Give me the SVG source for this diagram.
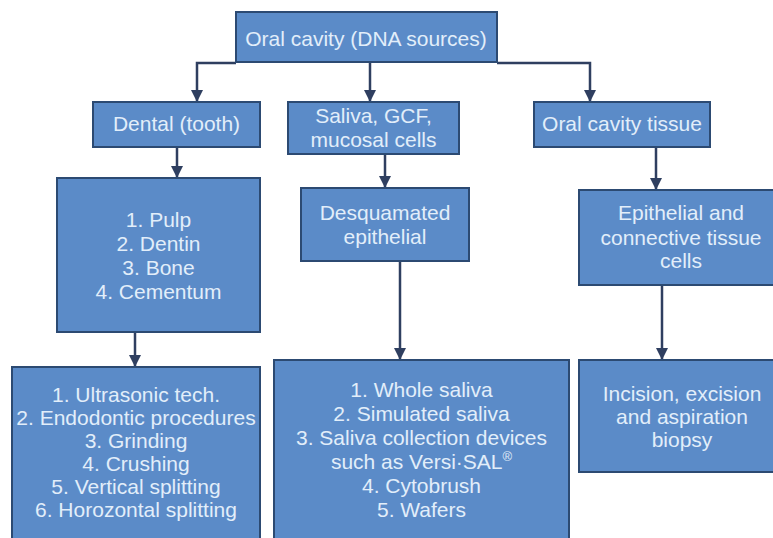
<svg xmlns="http://www.w3.org/2000/svg" width="773" height="538" viewBox="0 0 773 538">
<defs>
<style>
.box{fill:#5b8bc8;stroke:#2c4a72;stroke-width:2}
.t{font-family:"Liberation Sans",Arial,sans-serif;font-size:21px;fill:#e2eefa;text-anchor:middle}
.c{fill:none;stroke:#2f3f60;stroke-width:2.5}
</style>
<marker id="ah" markerUnits="userSpaceOnUse" markerWidth="12" markerHeight="12" viewBox="0 0 12 12" refX="11" refY="6" orient="auto">
<path d="M0,0 L12,6 L0,12 z" fill="#2f3f60"/>
</marker>
</defs>
<rect width="773" height="538" fill="#ffffff"/>
<g id="connectors">
<path class="c" d="M236 63 H197 V101" marker-end="url(#ah)"/>
<path class="c" d="M370 62 V101" marker-end="url(#ah)"/>
<path class="c" d="M497 63 H590 V101" marker-end="url(#ah)"/>
<path class="c" d="M177 147 V177" marker-end="url(#ah)"/>
<path class="c" d="M135 332 V366" marker-end="url(#ah)"/>
<path class="c" d="M385 154 V187" marker-end="url(#ah)"/>
<path class="c" d="M400 261 V359" marker-end="url(#ah)"/>
<path class="c" d="M656 147 V189" marker-end="url(#ah)"/>
<path class="c" d="M662 285 V359" marker-end="url(#ah)"/>
</g>
<g id="root">
<rect class="box" x="236" y="12" width="261" height="50"/>
<text class="t" x="366" y="46">Oral cavity (DNA sources)</text>
</g>
<g id="dental">
<rect class="box" x="93" y="102" width="167" height="45"/>
<text class="t" x="176.5" y="131">Dental (tooth)</text>
</g>
<g id="saliva">
<rect class="box" x="288" y="102" width="171" height="52"/>
<text class="t" x="373.5" y="123">Saliva, GCF,</text>
<text class="t" x="373.5" y="146.5">mucosal cells</text>
</g>
<g id="tissue">
<rect class="box" x="534" y="102" width="176" height="45"/>
<text class="t" x="622" y="131">Oral cavity tissue</text>
</g>
<g id="dental-parts">
<rect class="box" x="57" y="178" width="203" height="154"/>
<text class="t" x="158.5" y="227">1. Pulp</text>
<text class="t" x="158.5" y="251">2. Dentin</text>
<text class="t" x="158.5" y="275">3. Bone</text>
<text class="t" x="158.5" y="299">4. Cementum</text>
</g>
<g id="desquamated">
<rect class="box" x="301" y="188" width="168" height="73"/>
<text class="t" x="385" y="220">Desquamated</text>
<text class="t" x="385" y="244">epithelial</text>
</g>
<g id="epithelial">
<rect class="box" x="579" y="190" width="206" height="95"/>
<text class="t" x="681" y="220">Epithelial and</text>
<text class="t" x="681" y="245">connective tissue</text>
<text class="t" x="681" y="268">cells</text>
</g>
<g id="dental-methods">
<rect class="box" x="12" y="367" width="248" height="180"/>
<text class="t" x="136" y="402">1. Ultrasonic tech.</text>
<text class="t" x="136" y="425">2. Endodontic procedures</text>
<text class="t" x="136" y="448">3. Grinding</text>
<text class="t" x="136" y="471">4. Crushing</text>
<text class="t" x="136" y="494">5. Vertical splitting</text>
<text class="t" x="136" y="517">6. Horozontal splitting</text>
</g>
<g id="saliva-methods">
<rect class="box" x="274" y="360" width="295" height="187"/>
<text class="t" x="421.5" y="397">1. Whole saliva</text>
<text class="t" x="421.5" y="421">2. Simulated saliva</text>
<text class="t" x="421.5" y="445">3. Saliva collection devices</text>
<text class="t" x="421.5" y="469">such as Versi·SAL<tspan font-size="13" dy="-8">®</tspan></text>
<text class="t" x="421.5" y="493">4. Cytobrush</text>
<text class="t" x="421.5" y="517">5. Wafers</text>
</g>
<g id="biopsy">
<rect class="box" x="579" y="360" width="206" height="112"/>
<text class="t" x="682" y="401">Incision, excision</text>
<text class="t" x="682" y="424">and aspiration</text>
<text class="t" x="682" y="447">biopsy</text>
</g>
</svg>
